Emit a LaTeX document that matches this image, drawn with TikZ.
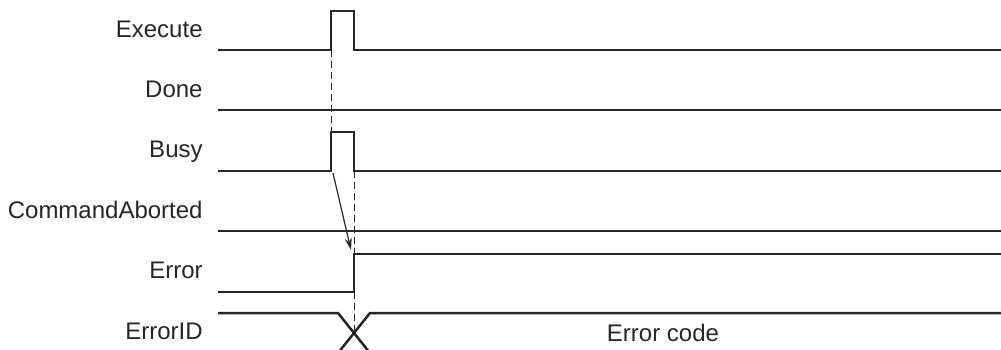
\documentclass[tikz,border=0pt]{standalone}
\usepackage{fontspec}
\setmainfont{Liberation Sans}
\usetikzlibrary{calc}
\usetikzlibrary{arrows.meta}

\begin{document}
\begin{tikzpicture}[x=0.5pt, y=-0.5pt, every node/.style={font=\fontsize{12}{14}\selectfont, text=black!85}]

\tikzset{
    sig/.style={line width=1.25pt, black!85, line join=miter},
    guide/.style={line width=0.5pt, black!85, dash pattern=on 3.5pt off 2pt},
    cause/.style={line width=0.6pt, black!85, -{Stealth[length=6pt, width=3.5pt]}}
}

\useasboundingbox (0,0) rectangle (1001,349);

% --- SIGNAL NAMES ---
\foreach \name/\lbl [count=\i from 0] in {exe/Execute, done/Done, busy/Busy,
        cab/CommandAborted, err/Error, eid/ErrorID}
    \node[anchor=base east, inner sep=0pt] (l-\name) at (203, 37+60.4*\i) {\lbl};

% --- KEY INSTANTS ---
\coordinate (ExeUp)   at (331,50);
\coordinate (ExeDown) at (354,50);
\coordinate (BusyUp)  at (331,171);
\coordinate (BusyTop) at (331,132);
\coordinate (BusyDown) at (354,171);
\coordinate (ErrUp)   at (354,254);
\coordinate (EidX)    at (354,333);

% --- WAVEFORMS ---
\draw[sig] (218,50) -- (ExeUp) -- (331,11) -- (354,11) -- (ExeDown) -- (1001,50);
\draw[sig] (218,110) -- (1001,110);
\draw[sig] (218,171) -- (BusyUp) -- (BusyTop) -- (354,132) -- (BusyDown) -- (1001,171);
\draw[sig] (218,231) -- (1001,231);
\draw[sig] (218,292) -- (354,292) -- (ErrUp) -- (1001,254);

% ErrorID bus with crossing
\begin{scope}
    \clip (0,0) rectangle (1001,349);
    \draw[sig] (218,313) -- (338,313) -- ($(338,313)!2!(EidX)$);
    \draw[sig] (1001,313) -- (370,313) -- ($(370,313)!2!(EidX)$);
\end{scope}
\node[anchor=base, inner sep=0pt] (code) at (663,341) {Error code};

% --- TIMING GUIDES ---
\draw[guide] (ExeUp) -- (BusyTop);
\draw[guide] (BusyDown) -- (EidX);
\draw[cause] ($(BusyUp)+(2,2)$) -- (351,250);

\end{tikzpicture}
\end{document}
